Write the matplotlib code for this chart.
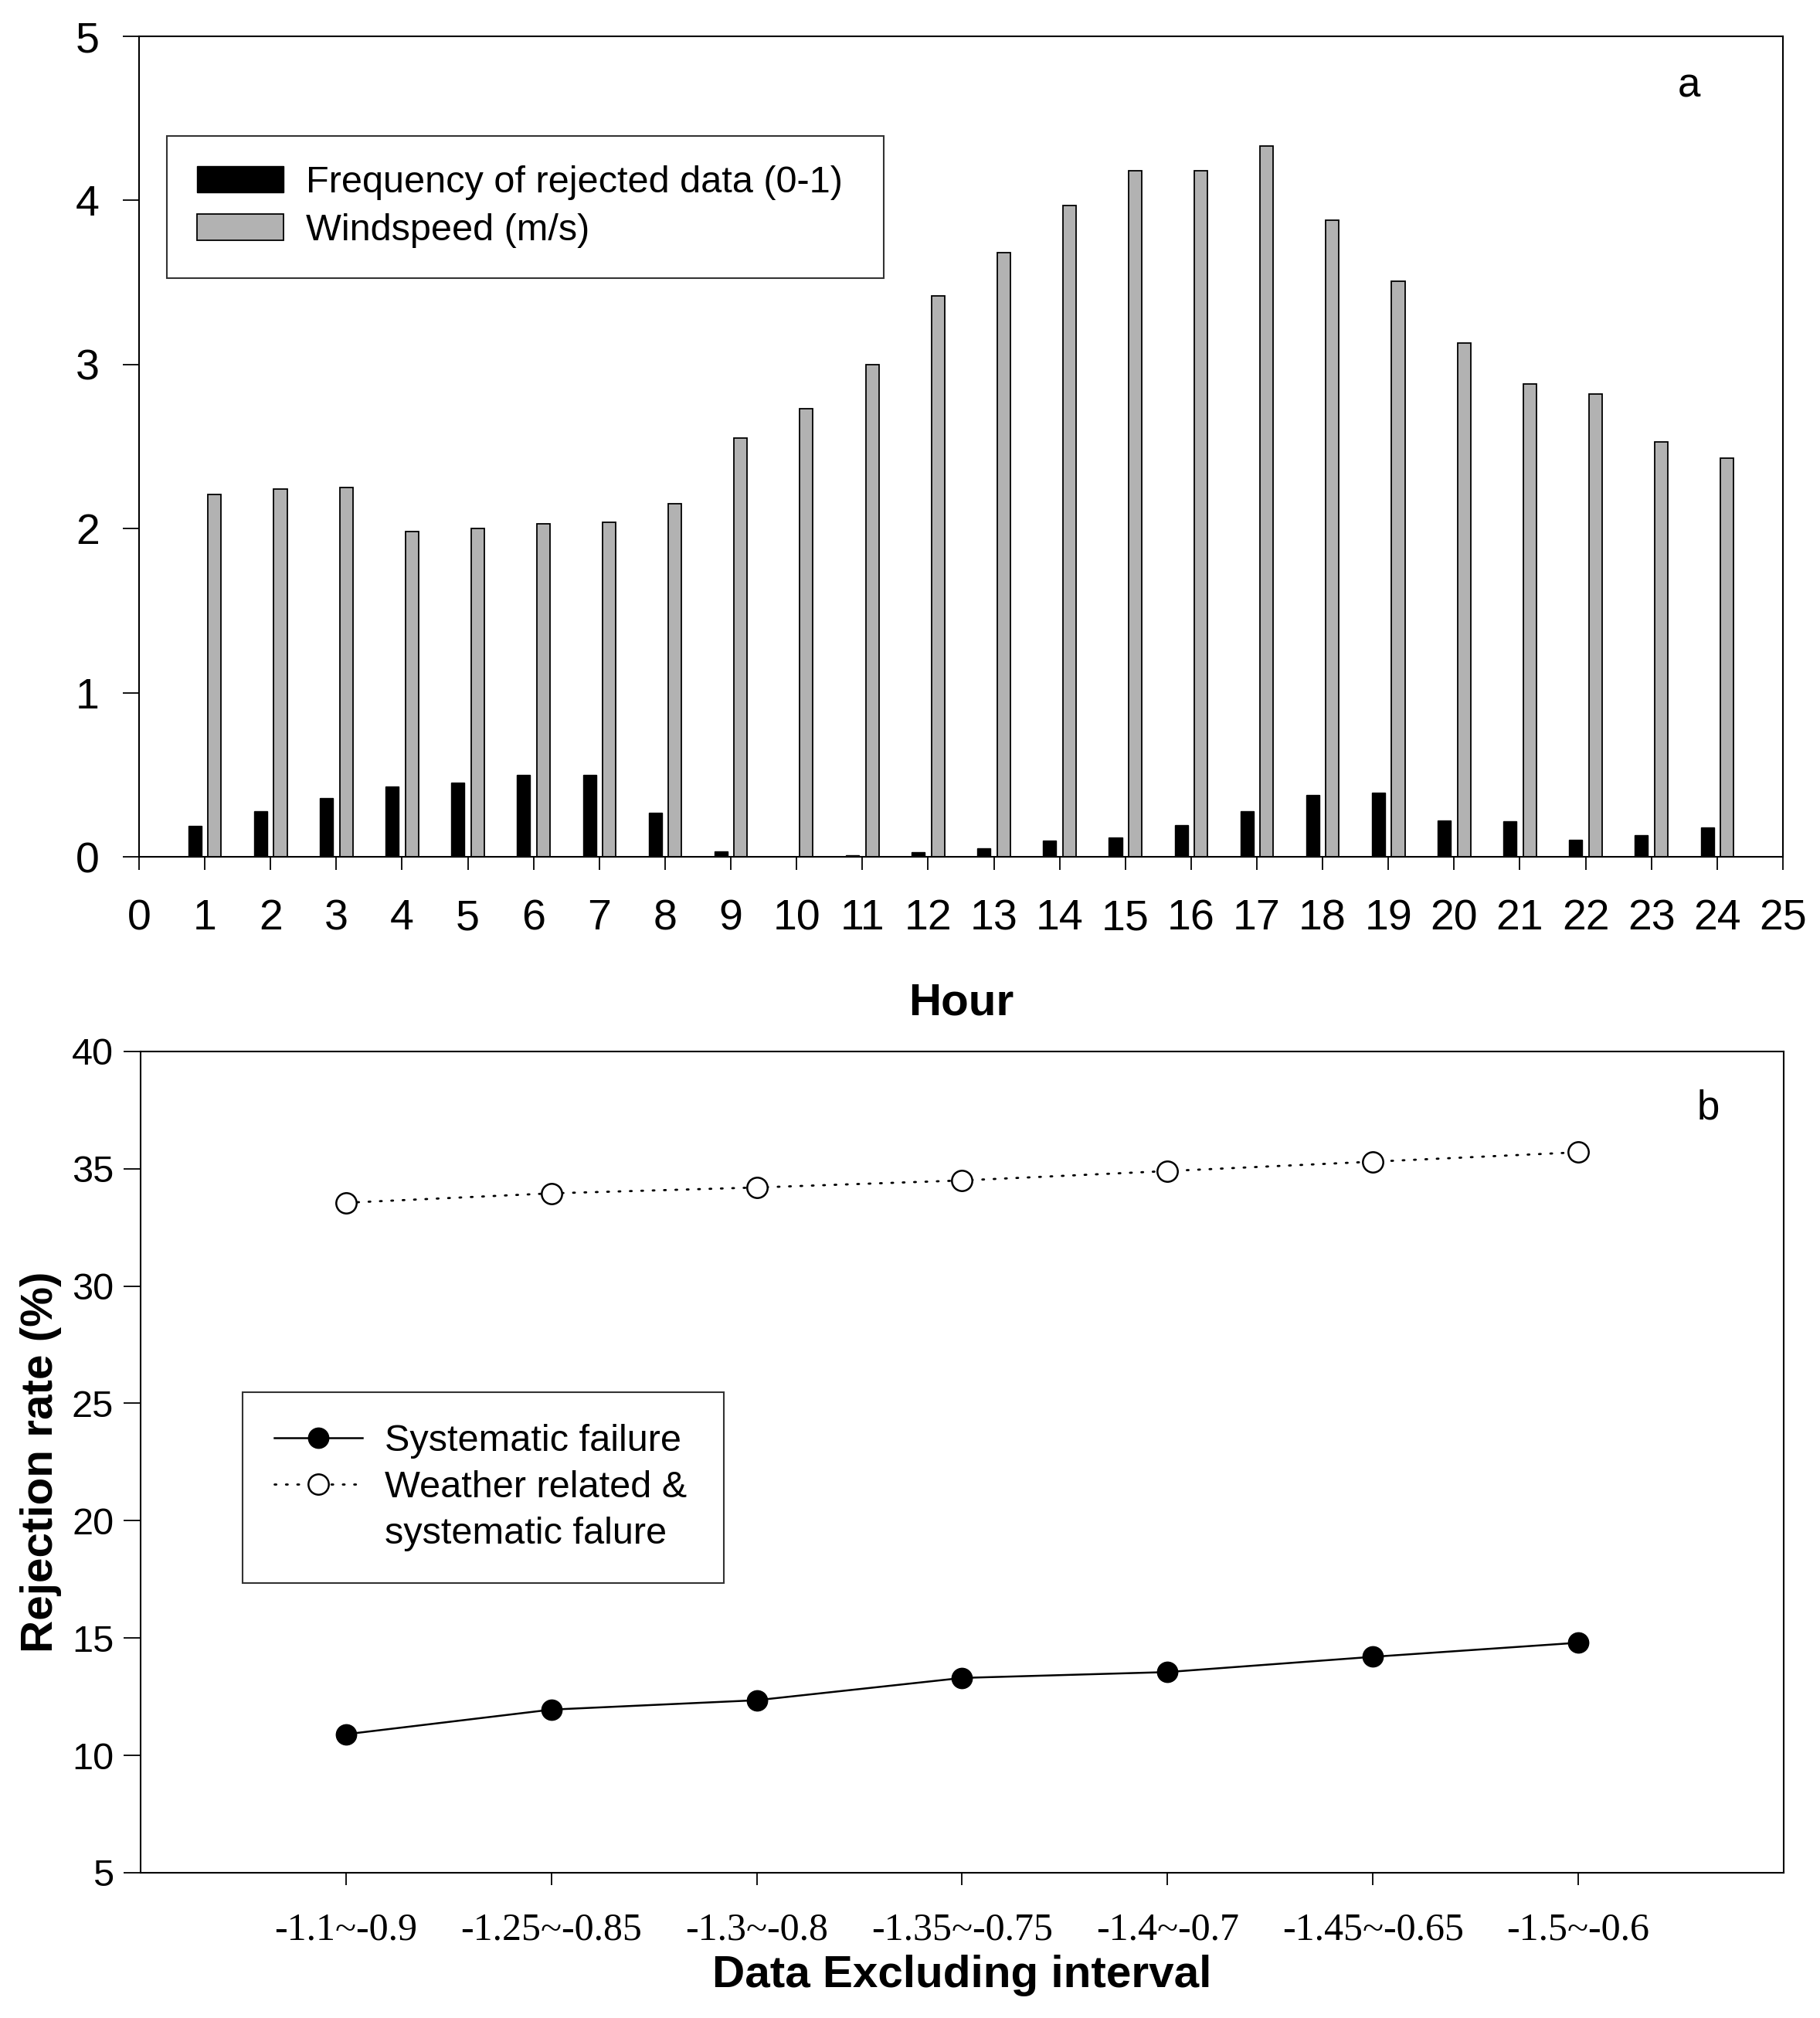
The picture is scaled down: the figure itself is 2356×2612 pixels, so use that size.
import matplotlib.pyplot as plt
from matplotlib.lines import Line2D
from matplotlib.patches import Patch
import numpy as np

plt.rcParams['font.family'] = ['Liberation Sans', 'DejaVu Sans']

# panel a: hourly data
hours = np.arange(1, 25)
rejected_freq = [0.19, 0.28, 0.36, 0.43, 0.45, 0.50, 0.50, 0.27, 0.035, 0.0, 0.01, 0.027,
                 0.05, 0.10, 0.12, 0.195, 0.28, 0.375, 0.39, 0.22, 0.215, 0.105, 0.13, 0.18]
windspeed = [2.21, 2.24, 2.25, 1.98, 2.00, 2.03, 2.04, 2.15, 2.55, 2.73, 3.00, 3.42,
             3.68, 3.97, 4.18, 4.18, 4.33, 3.88, 3.51, 3.13, 2.88, 2.82, 2.53, 2.43]

# panel b: rejection rate by excluding interval
intervals = ['-1.1~-0.9', '-1.25~-0.85', '-1.3~-0.8', '-1.35~-0.75',
             '-1.4~-0.7', '-1.45~-0.65', '-1.5~-0.6']
systematic = [10.9, 11.95, 12.35, 13.3, 13.55, 14.2, 14.8]
weather_systematic = [33.55, 33.95, 34.2, 34.5, 34.9, 35.3, 35.7]

fig = plt.figure(figsize=(23.56, 26.12), dpi=100)

# ---- panel a ----
ax1 = fig.add_axes([0.0764, 0.5754, 0.9032, 0.4066])
ax1.bar(hours - 0.15, rejected_freq, width=0.2, color='black', edgecolor='black', linewidth=1.0)
ax1.bar(hours + 0.15, windspeed, width=0.2, color='#b2b2b2', edgecolor='black', linewidth=1.3)
ax1.set_xlim(0, 25)
ax1.set_ylim(0, 5)
ax1.set_xticks(range(0, 26))
ax1.set_yticks(range(0, 6))
ax1.tick_params(axis='x', direction='out', length=12, width=1.3, labelsize=40, pad=27)
ax1.tick_params(axis='y', direction='out', length=15, width=1.3, labelsize=40, pad=22)
for s in ax1.spines.values():
    s.set_linewidth(1.5)
ax1.set_xlabel('Hour', fontsize=42, fontweight='bold')
ax1.xaxis.set_label_coords(0.5, -0.153)
ax1.text(0.943, 0.939, 'a', transform=ax1.transAxes, fontsize=38, ha='center', va='center')

handles1 = [Patch(facecolor='black', edgecolor='black', linewidth=1.0),
            Patch(facecolor='#b2b2b2', edgecolor='black', linewidth=1.3)]
leg1 = ax1.legend(handles1, ['Frequency of rejected data (0-1)', 'Windspeed (m/s)'],
                  loc='upper left', bbox_to_anchor=(0.017, 0.703, 0.436, 0.176), mode='expand',
                  borderaxespad=0, fontsize=35, frameon=True, fancybox=False,
                  edgecolor='black', handlelength=2.3, handleheight=0.7,
                  handletextpad=0.6, borderpad=0.8, labelspacing=0.35)
leg1.get_frame().set_linewidth(1.5)

# ---- panel b ----
ax2 = fig.add_axes([0.0772, 0.0720, 0.9028, 0.4070])
xpos = np.arange(1, len(intervals) + 1)
ax2.plot(xpos, systematic, color='black', linewidth=1.8, marker='o', markersize=19,
         markerfacecolor='black', markeredgecolor='black')
ax2.plot(xpos, weather_systematic, color='black', linewidth=2.0, linestyle=(0, (0.8, 4.5)),
         dash_capstyle='round', marker='o', markersize=19, markerfacecolor='white',
         markeredgecolor='black', markeredgewidth=1.8)
ax2.set_xlim(0, 8)
ax2.set_ylim(5, 40)
ax2.set_xticks(xpos)
ax2.set_xticklabels(intervals, family=['Liberation Serif', 'DejaVu Serif'], fontsize=36)
ax2.set_yticks(range(5, 45, 5))
ax2.tick_params(axis='x', direction='out', length=11.5, width=1.3, pad=25)
ax2.tick_params(axis='y', direction='out', length=16, width=1.3, labelsize=35, pad=9)
for s in ax2.spines.values():
    s.set_linewidth(1.5)
ax2.set_xlabel('Data Excluding interval', fontsize=42, fontweight='bold')
ax2.xaxis.set_label_coords(0.5, -0.0997)
ax2.set_ylabel('Rejection rate (%)', fontsize=42, fontweight='bold')
ax2.yaxis.set_label_coords(-0.048, 0.5)
ax2.text(0.954, 0.931, 'b', transform=ax2.transAxes, fontsize=38, ha='center', va='center')

handles2 = [Line2D([], [], color='black', linewidth=1.8, marker='o', markersize=19,
                   markerfacecolor='black'),
            Line2D([], [], color='black', linewidth=2.0, linestyle=(0, (0.8, 4.5)),
                   dash_capstyle='round', marker='o', markersize=19,
                   markerfacecolor='white', markeredgewidth=1.8),
            Line2D([], [], linestyle='none')]
leg2 = ax2.legend(handles2, ['Systematic failure', 'Weather related &', 'systematic falure'],
                  loc='upper left', bbox_to_anchor=(0.062, 0.357, 0.293, 0.228), mode='expand',
                  borderaxespad=0, fontsize=35, frameon=True, fancybox=False,
                  edgecolor='black', handlelength=2.35, handletextpad=0.58,
                  borderpad=0.85, labelspacing=0.3)
leg2.get_frame().set_linewidth(1.5)

fig.savefig('out.png', dpi=100)
